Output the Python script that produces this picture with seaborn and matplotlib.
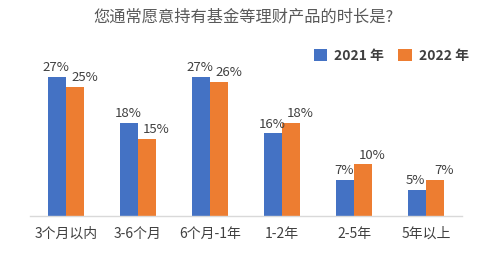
import pandas as pd
import matplotlib
matplotlib.use('Agg')
import matplotlib.pyplot as plt
import seaborn as sns

# 数据
categories = ['3个月以内', '3-6个月', '6个月-1年', '1-2年', '2-5年', '5年以上']
values_2021 = [27, 18, 27, 16, 7, 5]
values_2022 = [25, 15, 26, 18, 10, 7]
series_names = ['2021 年', '2022 年']

df = pd.DataFrame({
    'cat': categories * 2,
    'year': [series_names[0]] * len(categories) + [series_names[1]] * len(categories),
    'val': values_2021 + values_2022,
})

sns.set_theme(style='white')
plt.rcParams['font.family'] = ['Noto Sans CJK SC', 'DejaVu Sans']

fig = plt.figure(figsize=(4.97, 2.65), dpi=100)
ax = fig.add_axes([30 / 497, 49 / 265, 432 / 497, (216 - 61) / 265])

palette = ['#4472C4', '#ED7D31']
sns.barplot(data=df, x='cat', y='val', hue='year', palette=palette,
            width=0.49, gap=0, saturation=1, linewidth=0, ax=ax)

# 数值标签：蓝色居中，橙色稍向右偏
offsets = [-1, 7]
for cont, dx in zip(ax.containers, offsets):
    for p, v in zip(cont.patches, cont.datavalues):
        ax.annotate(f'{v:.0f}%', (p.get_x() + p.get_width() / 2, p.get_height()),
                    xytext=(dx, 2), textcoords='offset points',
                    ha='center', va='bottom', fontsize=9.5, color='#404040')

ax.set_ylim(0, 30)
ax.set_xlim(-0.5, len(categories) - 0.5)
ax.set_yticks([])
ax.set_xlabel('')
ax.set_ylabel('')
ax.tick_params(axis='x', length=0, pad=8, labelsize=10, labelcolor='#404040')
for s in ['top', 'right', 'left']:
    ax.spines[s].set_visible(False)
ax.spines['bottom'].set_color('#D9D9D9')
ax.spines['bottom'].set_linewidth(1)

ax.legend(loc='upper right', bbox_to_anchor=(1.045, 1.16), ncol=2, frameon=False,
          handlelength=1.0, handleheight=1.0, columnspacing=1.0,
          handletextpad=0.5, labelcolor='#404040',
          prop={'weight': 'bold', 'size': 10})

fig.text(0.49, 1 - 17 / 265, '您通常愿意持有基金等理财产品的时长是?', ha='center', va='center',
         fontsize=11.7, color='#595959')

fig.savefig('out.png', dpi=100)
